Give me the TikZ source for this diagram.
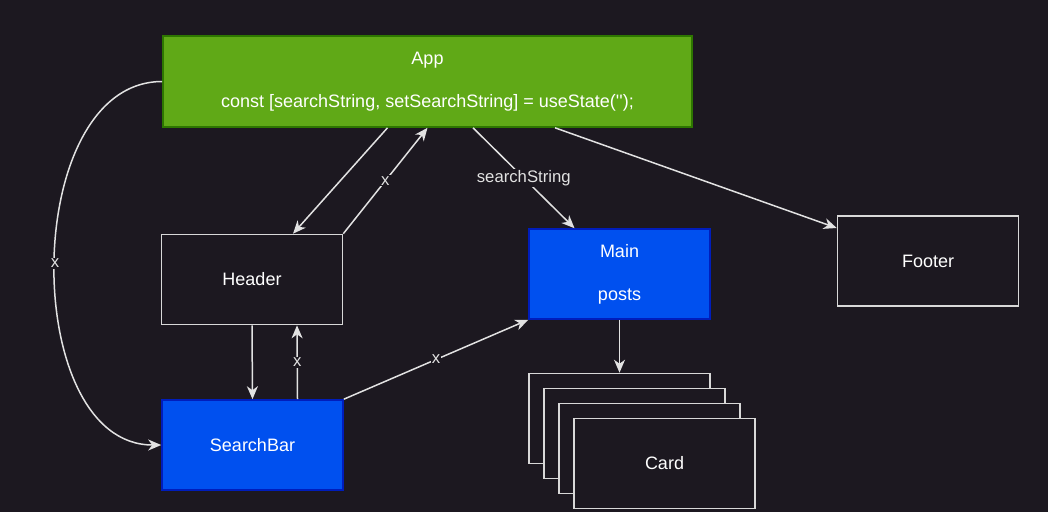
\documentclass[tikz,border=0pt]{standalone}
\usepackage{fontspec}
\setmainfont{Liberation Sans}
\usetikzlibrary{arrows.meta}
\definecolor{bg}{HTML}{1C1820}
\definecolor{appgreen}{HTML}{60A917}
\definecolor{appedge}{HTML}{2D7600}
\definecolor{mainblue}{HTML}{0050EF}
\definecolor{blueedge}{HTML}{001DBC}
\definecolor{wire}{HTML}{E2E2E2}
\begin{document}
\begin{tikzpicture}[x = 1pt, y = -1pt,
  box/.style = {draw = wire!90!gray, line width = 1.6pt, fill = bg, text = white,
    minimum width = 181pt, minimum height = 90pt, inner sep = 0pt,
    align = center, font = \fontsize{18}{44}\selectfont},
  greenbox/.style = {box, draw = appedge, fill = appgreen, minimum width = 529pt, minimum height = 91pt},
  bluebox/.style = {box, draw = blueedge, fill = mainblue},
  wire/.style = {draw = wire, line width = 1.5pt, -{Stealth[length = 13pt, width = 11pt, inset = 4pt]}},
  lbl/.style = {fill = bg, text = wire, inner sep = 1pt, font = \fontsize{16.7}{18}\selectfont}]
\path [fill = bg] (0,0) rectangle (1048,512);
\node [greenbox] (App) at (427.5,81.5) {App\\[-1pt]const [searchString, setSearchString] = useState(\textquotesingle\textquotesingle);};
\node [box] (Header) at (252,279.5) {Header};
\node [bluebox] (SearchBar) at (252.5,445) {SearchBar};
\node [bluebox] (Main) at (619.5,274) {Main\\[-1pt]posts};
\node [box] (Footer) at (928,261) {Footer};
\node [box] (Card1) at (619.5,418.5) {};
\node [box] (Card2) at (634.5,433.5) {};
\node [box] (Card3) at (649.5,448.5) {};
\node [box] (Card4) at (664.5,463.5) {Card}; % front card of the stack
\draw [wire] ([xshift = -40pt]App.south) -- ([xshift = 41pt]Header.north);
\draw [wire] (Header.north east) -- node [lbl] {x} (App.south);
\draw [wire] ([xshift = 45.5pt]App.south) -- node [lbl] {searchString} ([xshift = -45pt]Main.north);
\draw [wire] ([xshift = 127.5pt]App.south) -- ([yshift = 33pt]Footer.west);
\draw [wire] (App.west) to[out = 180, in = 180] node [lbl] {x} (SearchBar.west);
\draw [wire] (Header.south) -- (SearchBar.north);
\draw [wire] ([xshift = 45pt]SearchBar.north) -- node [lbl] {x} ([xshift = 45pt]Header.south);
\draw [wire] (SearchBar.north east) -- node [lbl] {x} (Main.south west);
\draw [wire] (Main.south) -- (Card1.north);
\end{tikzpicture}
\end{document}
